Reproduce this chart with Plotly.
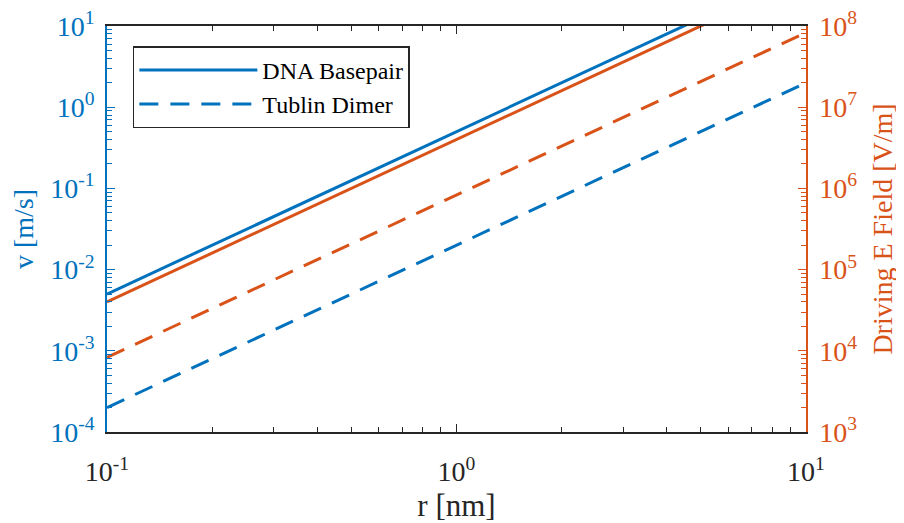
import plotly.graph_objects as go

# Data
r_nm = [0.1, 1.0, 10.0]
v_dna = [5.0e-3, 5.0e-1, 5.0e1]          # m/s, left axis
v_tublin = [2.0e-4, 2.0e-2, 2.0e0]       # m/s, left axis
e_dna = [4.0e4, 4.0e6, 4.0e8]            # V/m, right axis
e_tublin = [8.3e3, 8.3e5, 8.3e7]         # V/m, right axis

x_tick_exp = [-1, 0, 1]
y_left_exp = [-4, -3, -2, -1, 0, 1]
y_right_exp = [3, 4, 5, 6, 7, 8]

BLUE = "#0072BD"
ORANGE = "#D95319"
DARK = "#262626"
FONT = "Liberation Serif, Times New Roman, DejaVu Serif, serif"
TICKFS = 28


def pow_labels(exps):
    return [f"10<sup>{e}</sup>" for e in exps]


def minor_vals(exps):
    vals = []
    for e in exps[:-1]:
        for m in range(2, 10):
            vals.append(m * 10 ** e)
    return vals


fig = go.Figure()
fig.add_trace(go.Scatter(x=r_nm, y=v_dna, mode="lines", name="DNA Basepair",
                         line=dict(color=BLUE, width=3)))
fig.add_trace(go.Scatter(x=r_nm, y=v_tublin, mode="lines", name="Tublin Dimer",
                         line=dict(color=BLUE, width=3, dash="19px,12px")))
fig.add_trace(go.Scatter(x=r_nm, y=e_dna, mode="lines", name="DNA Basepair E",
                         yaxis="y2", showlegend=False,
                         line=dict(color=ORANGE, width=3)))
fig.add_trace(go.Scatter(x=r_nm, y=e_tublin, mode="lines", name="Tublin Dimer E",
                         yaxis="y2", showlegend=False,
                         line=dict(color=ORANGE, width=3, dash="19px,12px")))

# the page body adds an 8px margin, so the figure is 8px smaller
fig.update_layout(
    width=896, height=515,
    margin=dict(l=99, r=98, t=18, b=91, autoexpand=False),
    paper_bgcolor="white", plot_bgcolor="white",
    font=dict(family=FONT, size=TICKFS, color=DARK),
    showlegend=True,
    legend=dict(
        x=0.037, y=0.95, xanchor="left", yanchor="top",
        bgcolor="white", bordercolor=DARK, borderwidth=1.5,
        font=dict(family=FONT, size=24, color="black"),
        itemwidth=118, tracegroupgap=0,
    ),
    xaxis=dict(
        type="log", range=[-1, 1], automargin=False,
        tickvals=[10 ** e for e in x_tick_exp], ticktext=pow_labels(x_tick_exp),
        ticks="inside", ticklen=8, tickcolor=DARK, tickwidth=1,
        showline=True, linecolor=DARK, linewidth=1.5, mirror="ticks",
        showgrid=False, zeroline=False, ticklabelstandoff=14,
        ticklabeloverflow="allow",
        tickfont=dict(family=FONT, size=TICKFS, color=DARK),
        minor=dict(tickvals=minor_vals(x_tick_exp), ticks="inside", ticklen=5,
                   tickcolor=DARK, showgrid=False),
        title=dict(text="r [nm]", font=dict(family=FONT, size=31, color=DARK),
                   standoff=8),
    ),
    yaxis=dict(
        type="log", range=[-4, 1], automargin=False,
        tickvals=[10 ** e for e in y_left_exp], ticktext=pow_labels(y_left_exp),
        ticks="inside", ticklen=8, tickcolor=BLUE, tickwidth=1,
        showline=True, linecolor=BLUE, linewidth=1.5,
        showgrid=False, zeroline=False, ticklabelstandoff=5,
        ticklabeloverflow="allow",
        tickfont=dict(family=FONT, size=TICKFS, color=BLUE),
        minor=dict(tickvals=minor_vals(y_left_exp), ticks="inside", ticklen=5,
                   tickcolor=BLUE, showgrid=False),
        title=dict(text="v [m/s]", font=dict(family=FONT, size=TICKFS, color=BLUE),
                   standoff=12),
    ),
    yaxis2=dict(
        type="log", range=[3, 8], overlaying="y", side="right", automargin=False,
        tickvals=[10 ** e for e in y_right_exp], ticktext=pow_labels(y_right_exp),
        ticks="inside", ticklen=8, tickcolor=ORANGE, tickwidth=1,
        showline=True, linecolor=ORANGE, linewidth=1.5,
        showgrid=False, zeroline=False, ticklabelstandoff=6,
        ticklabeloverflow="allow",
        tickfont=dict(family=FONT, size=TICKFS, color=ORANGE),
        minor=dict(tickvals=minor_vals(y_right_exp), ticks="inside", ticklen=5,
                   tickcolor=ORANGE, showgrid=False),
        title=dict(text="Driving E Field [V/m]",
                   font=dict(family=FONT, size=TICKFS, color=ORANGE), standoff=16),
    ),
)

fig.write_html("out.html")
